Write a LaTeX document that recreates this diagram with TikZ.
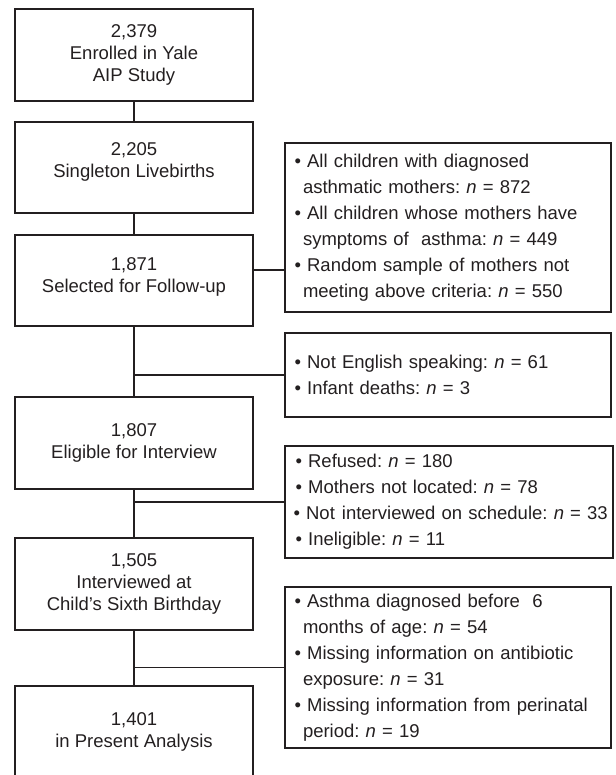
\documentclass[tikz,border=0pt]{standalone}
\usepackage{fontspec}
\setmainfont{Liberation Sans}
\usetikzlibrary{positioning}

\definecolor{inkgray}{HTML}{231F20}

\tikzset{
	flowbox/.style={draw=inkgray, line width=1.2pt, minimum width=238pt,
		inner sep=0pt, align=center, text=inkgray,
		font=\fontsize{18.5}{22}\selectfont},
	notebox/.style={draw=inkgray, line width=1.2pt, minimum width=326pt,
		text width=324pt, inner xsep=1pt, inner ysep=0pt, align=left,
		text=inkgray, font=\fontsize{18.5}{26}\selectfont\frenchspacing},
	lift/.style={text depth=#1},
	link/.style={draw=inkgray, line width=1.1pt},
}

% bullet and hanging indent for the side boxes
\newcommand{\itm}{\hspace*{8.5pt}\textbullet\ }
\newcommand{\cont}{\hspace*{17pt}}
\newcommand{\nn}{\textit{n}}

\begin{document}
\begin{tikzpicture}[x=1pt, y=-1pt]

	\useasboundingbox (0,0) rectangle (615,775);
	\clip (0,0) rectangle (615,775);

	% main flow
	\node[flowbox, minimum height=92pt] (enrol) at (134,55)
		{2,379\\Enrolled in Yale\\AIP Study};
	\node[flowbox, minimum height=91pt, lift=14pt] (birth) at (134,167.5)
		{2,205\\Singleton Livebirths};
	\node[flowbox, minimum height=91pt, lift=10pt] (select) at (134,280.5)
		{1,871\\Selected for Follow-up};
	\node[flowbox, minimum height=92pt] (elig) at (134,443)
		{1,807\\Eligible for Interview};
	\node[flowbox, minimum height=92pt] (interv) at (134,584)
		{1,505\\Interviewed at\\Child’s Sixth Birthday};
	\node[flowbox, minimum height=92pt] (final) at (134,732)
		{1,401\\in Present Analysis};

	% side boxes
	\node[notebox, minimum height=169pt] (sample) at (448,227.5)
		{\itm All children with diagnosed\\
		 \cont asthmatic mothers: \nn{} = 872\\
		 \itm All children whose mothers have\\
		 \cont symptoms of \ asthma: \nn{} = 449\\
		 \itm Random sample of mothers not\\
		 \cont meeting above criteria: \nn{} = 550};
	\node[notebox, minimum height=84pt] (excl1) at (448,375)
		{\itm Not English speaking: \nn{} = 61\\
		 \itm Infant deaths: \nn{} = 3};
	\node[notebox, minimum height=112pt, minimum width=328pt] (excl2) at (449,502)
		{\itm Refused: \nn{} = 180\\
		 \itm Mothers not located: \nn{} = 78\\
		 \mbox{\hspace*{-2pt}\itm Not\hspace{7pt}interviewed on schedule: \nn{} = 33}\\
		 \itm Ineligible: \nn{} = 11};
	\node[notebox, minimum height=161pt] (excl3) at (448,667.5)
		{\itm Asthma diagnosed before \ 6\\
		 \cont months of age: \nn{} = 54\\
		 \itm Missing information on antibiotic\\
		 \cont exposure: \nn{} = 31\\
		 \itm Missing information from perinatal\\
		 \cont period: \nn{} = 19};

	% connectors
	\coordinate (tap) at (0,270);
	\draw[link] (enrol) -- (birth);
	\draw[link] (birth) -- (select);
	\draw[link] (select) -- (elig);
	\draw[link] (elig) -- (interv);
	\draw[link] (interv) -- (final);
	\draw[link] (select.east |- tap) -- (sample.west |- tap);
	\draw[link] (select.south |- excl1.west) -- (excl1.west);
	\draw[link] (elig.south |- excl2.west) -- (excl2.west);
	\draw[link] (interv.south |- excl3.west) -- (excl3.west);

\end{tikzpicture}
\end{document}
